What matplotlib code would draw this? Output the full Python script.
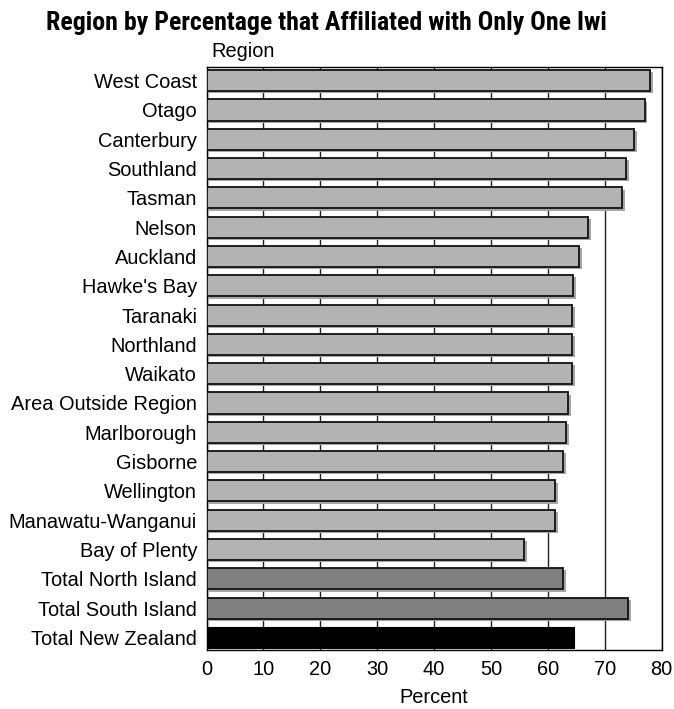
import matplotlib
matplotlib.use("Agg")
import matplotlib.pyplot as plt
import matplotlib.patheffects as pe
from matplotlib import font_manager as fm

regions = ["West Coast", "Otago", "Canterbury", "Southland", "Tasman", "Nelson",
           "Auckland", "Hawke's Bay", "Taranaki", "Northland", "Waikato",
           "Area Outside Region", "Marlborough", "Gisborne", "Wellington",
           "Manawatu-Wanganui", "Bay of Plenty", "Total North Island",
           "Total South Island", "Total New Zealand"]
percent = [78.0, 77.0, 75.1, 73.7, 73.1, 67.1, 65.5, 64.4, 64.2, 64.2, 64.2,
           63.5, 63.2, 62.6, 61.3, 61.2, 55.8, 62.7, 74.1, 64.5]
bar_colors = ["#b3b3b3"] * 17 + ["#808080", "#808080", "#000000"]
xticks = [0, 10, 20, 30, 40, 50, 60, 70, 80]
title = "Region by Percentage that Affiliated with Only One Iwi"

plt.rcParams['font.family'] = ['Liberation Sans', 'DejaVu Sans']

# pick a condensed bold family for the title if one is installed
names = {(f.name, f.stretch) for f in fm.fontManager.ttflist}
fam_names = {n for n, _ in names}
title_kw = dict(family=['Liberation Sans', 'DejaVu Sans'])
for cand in ['Liberation Sans Narrow', 'Arial Narrow', 'Roboto Condensed',
             'Open Sans Condensed', 'Noto Sans Display']:
    if cand in fam_names:
        title_kw = dict(family=[cand, 'DejaVu Sans'])
        break
else:
    if any(n == 'DejaVu Sans' and s in ('condensed', 'semi-condensed', 600, 400 - 100)
           for n, s in names if isinstance(s, str) or True):
        if any(n == 'DejaVu Sans' and str(s) == 'condensed' for n, s in names):
            title_kw = dict(family=['DejaVu Sans'], fontstretch='condensed')

fig = plt.figure(figsize=(6.74, 7.09), dpi=100)
ax = fig.add_axes([0.3064, 0.0832, 0.6754, 0.8216])

ypos = list(range(len(regions)))
for i, (v, c) in enumerate(zip(percent, bar_colors)):
    if c == "#000000":
        ax.barh(i, v, height=0.72, color=c, edgecolor=c, linewidth=0.8, zorder=3)
    else:
        ax.barh(i, v, height=0.72, color=c, edgecolor="#111111", linewidth=1.3, zorder=3,
                path_effects=[pe.SimplePatchShadow(offset=(2, -1.6), shadow_rgbFace="#a6a6a6", alpha=1.0),
                              pe.Normal()])

ax.set_xlim(0, 80)
ax.set_ylim(len(regions) - 1 + 0.43, -0.45)
ax.set_yticks(ypos)
ax.set_yticklabels(regions, fontsize=14.4)
ax.set_xticks(xticks)
ax.set_xticklabels([str(t) for t in xticks], fontsize=14.4)
ax.tick_params(axis='y', length=0, pad=6.8)
ax.tick_params(axis='x', length=0, pad=7.5)
ax.xaxis.grid(True, color="#222222", linewidth=1.0, zorder=0)
ax.set_axisbelow(True)
for s in ax.spines.values():
    s.set_color("black")
    s.set_linewidth(1.0)
ax.set_xlabel("Percent", fontsize=14.4, labelpad=6)

fig.text(0.313, 0.920, "Region", fontsize=14.4, ha="left", va="baseline")
t = fig.text(0.484, 0.9577, title, fontsize=19, fontweight="bold",
             ha="center", va="baseline", **title_kw)
# fit the title to the reference width (~563 px)
fig.canvas.draw()
w = t.get_window_extent(renderer=fig.canvas.get_renderer()).width
t.set_fontsize(19 * 563.0 / w)

fig.savefig("out.png", dpi=100, facecolor="white")
